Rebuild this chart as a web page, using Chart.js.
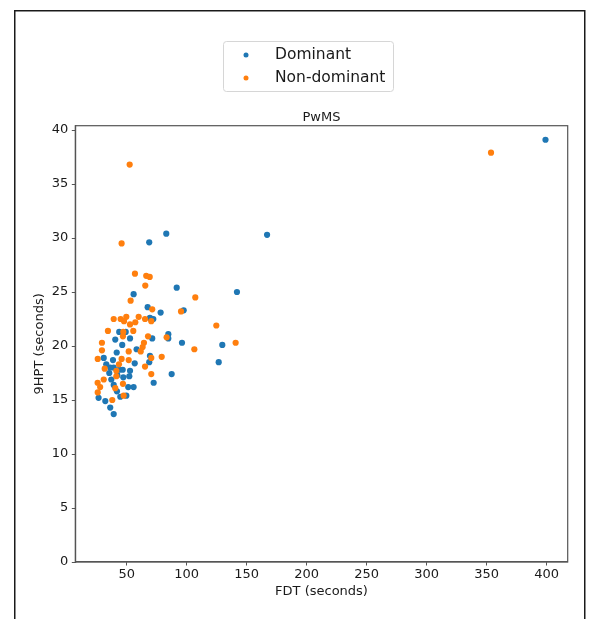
<!DOCTYPE html>
<html>
<head>
<meta charset="utf-8">
<title>PwMS</title>
<script src="https://cdn.jsdelivr.net/npm/chart.js@4.4.1/dist/chart.umd.min.js"></script>
<style>
  html, body { margin: 0; padding: 0; background: #fff; }
  #wrap { width: 590px; height: 619px; position: relative; }
</style>
</head>
<body>
<div id="wrap"><canvas id="chart"></canvas></div>
<script>
const seriesNames = ['Dominant', 'Non-dominant'];
const seriesColors = ['#1f77b4', '#ff7f0e'];

// FDT (seconds) / 9HPT (seconds), dominant hand
const dominantFdt = [399, 167, 83, 68.8, 91.7, 141.9, 55.8, 67.5, 97.5, 78.3,
  69.4, 72.2, 43.8, 49.2, 84.7, 84.7, 52.8, 71.3, 40.5, 96.1,
  129.7, 46.3, 58.3, 41.7, 69.4, 30.9, 38.6, 68.8, 126.7, 56.7,
  33.0, 36.3, 39.2, 43.8, 46.7, 52.8, 35.5, 87.5, 42.2, 52.2,
  47.2, 37.2, 72.5, 39.2, 51.3, 55.8, 41.9, 49.7, 44.7, 26.6,
  32.2, 36.3, 39.2];
const dominantHpt = [39.1, 30.3, 30.4, 29.6, 25.4, 25.0, 24.8, 23.6, 23.3, 23.1,
  22.6, 22.5, 21.3, 21.3, 21.1, 20.7, 20.7, 20.7, 20.6, 20.3,
  20.1, 20.1, 19.7, 19.4, 19.1, 18.9, 18.7, 18.5, 18.5, 18.4,
  18.3, 18.0, 18.0, 17.8, 17.8, 17.7, 17.5, 17.4, 17.3, 17.2,
  17.1, 16.9, 16.6, 16.4, 16.2, 16.2, 15.8, 15.4, 15.3, 15.2,
  14.9, 14.3, 13.7];

// non-dominant hand
const nonDominantFdt = [353.6, 52.5, 45.8, 56.9, 66.3, 69.2, 65.5, 107.2, 53.3, 71.3,
  95.3, 49.7, 60.0, 39.2, 45.0, 65.3, 47.8, 70.5, 57.2, 52.8,
  124.7, 34.4, 55.5, 47.2, 46.9, 67.8, 83.3, 29.4, 64.4, 140.8,
  63.3, 106.4, 29.4, 51.7, 61.7, 79.2, 70.5, 25.9, 45.8, 51.7,
  43.6, 65.3, 31.7, 41.4, 70.5, 41.4, 30.9, 25.8, 46.9, 27.9,
  40.5, 25.9, 47.5, 38.0];
const nonDominantHpt = [37.9, 36.8, 29.5, 26.7, 26.5, 26.4, 25.6, 24.5, 24.2, 23.4,
  23.2, 22.7, 22.7, 22.5, 22.5, 22.5, 22.3, 22.3, 22.2, 22.0,
  21.9, 21.4, 21.4, 21.3, 20.9, 20.9, 20.8, 20.3, 20.3, 20.3,
  19.9, 19.7, 19.6, 19.5, 19.5, 19.0, 18.9, 18.8, 18.8, 18.7,
  18.3, 18.1, 17.9, 17.7, 17.4, 17.2, 16.9, 16.6, 16.5, 16.2,
  16.1, 15.7, 15.4, 15.0];

const xTicks = [50, 100, 150, 200, 250, 300, 350, 400];
const yTicks = [0, 5, 10, 15, 20, 25, 30, 35, 40];

const toPoints = (xs, ys) => xs.map((x, i) => ({x: x, y: ys[i]}));

Chart.defaults.font.family = '"DejaVu Sans", sans-serif';
Chart.defaults.color = '#1a1a1a';

// white page, the dark frame round the whole figure, and the box round the plot
const figureFrame = {
    id: 'figureFrame',
    beforeDraw(chart) {
        const ctx = chart.ctx;
        ctx.save();
        ctx.fillStyle = '#fff';
        ctx.fillRect(0, 0, chart.width, chart.height);
        ctx.strokeStyle = '#1a1a1a';
        ctx.lineWidth = 1.5;
        ctx.strokeRect(14.75, 10.75, 570, 700);
        ctx.restore();
    },
    beforeDatasetsDraw(chart) {
        const {ctx, chartArea: a} = chart;
        ctx.save();
        ctx.strokeStyle = '#555';
        ctx.lineWidth = 1.2;
        ctx.strokeRect(a.left, a.top, a.right - a.left, a.bottom - a.top);
        ctx.restore();
    }
};

// matplotlib style legend: boxed, one entry per row
const boxLegend = {
    id: 'boxLegend',
    afterDraw(chart) {
        const ctx = chart.ctx;
        ctx.save();
        ctx.beginPath();
        ctx.roundRect(223.5, 41.5, 170, 50, 3);
        ctx.fillStyle = 'rgba(255,255,255,0.8)';
        ctx.fill();
        ctx.strokeStyle = '#d6d6d6';
        ctx.lineWidth = 1;
        ctx.stroke();
        ctx.font = '15.5px "DejaVu Sans"';
        ctx.textBaseline = 'middle';
        chart.data.datasets.forEach((ds, i) => {
            const y = 55 + i * 23;
            ctx.beginPath();
            ctx.arc(246, y, 2.5, 0, Math.PI * 2);
            ctx.fillStyle = ds.backgroundColor;
            ctx.fill();
            ctx.fillStyle = '#1a1a1a';
            ctx.fillText(ds.label, 275, y);
        });
        ctx.restore();
    }
};

const axisLine = {display: true, color: '#555', width: 1.2};
const tickMarks = {display: true, drawOnChartArea: false, drawTicks: true, tickLength: 3.5, tickColor: '#555', tickWidth: 1};

new Chart(document.getElementById('chart'), {
    type: 'scatter',
    data: {
        datasets: [
            {
                label: seriesNames[0],
                data: toPoints(dominantFdt, dominantHpt),
                backgroundColor: seriesColors[0],
                borderWidth: 0,
                pointRadius: 3.1,
                order: 2,
            },
            {
                label: seriesNames[1],
                data: toPoints(nonDominantFdt, nonDominantHpt),
                backgroundColor: seriesColors[1],
                borderWidth: 0,
                pointRadius: 3.1,
                order: 1,
            },
        ],
    },
    options: {
        responsive: true,
        maintainAspectRatio: false,
        animation: false,
        devicePixelRatio: 1,
        layout: {padding: {top: 100, left: 0, right: 22.3, bottom: 0}},
        plugins: {
            legend: {display: false},
            tooltip: {enabled: false},
            title: {
                display: true,
                text: 'PwMS',
                fullSize: false,
                font: {size: 13, weight: 'normal'},
                color: '#1a1a1a',
                padding: {top: 9.7, bottom: 0.4},
            },
        },
        scales: {
            x: {
                type: 'linear',
                min: 7.2,
                max: 417.5,
                border: axisLine,
                grid: tickMarks,
                ticks: {font: {size: 13}, padding: 1, maxRotation: 0, color: '#1a1a1a'},
                afterBuildTicks: (scale) => { scale.ticks = xTicks.map(v => ({value: v})); },
                afterFit: (scale) => { scale.height = 57; },
                title: {display: true, text: 'FDT (seconds)', font: {size: 13}, color: '#1a1a1a', padding: {top: 0, bottom: 20}},
            },
            y: {
                type: 'linear',
                min: 0,
                max: 40.4,
                border: axisLine,
                grid: tickMarks,
                ticks: {font: {size: 13}, padding: 3.5, color: '#1a1a1a'},
                afterBuildTicks: (scale) => { scale.ticks = yTicks.map(v => ({value: v})); },
                afterFit: (scale) => { scale.width = 75.3; },
                title: {display: true, text: '9HPT (seconds)', font: {size: 13}, color: '#1a1a1a', padding: {top: 31.5, bottom: 0}},
            },
        },
    },
    plugins: [figureFrame, boxLegend],
});
</script>
</body>
</html>
